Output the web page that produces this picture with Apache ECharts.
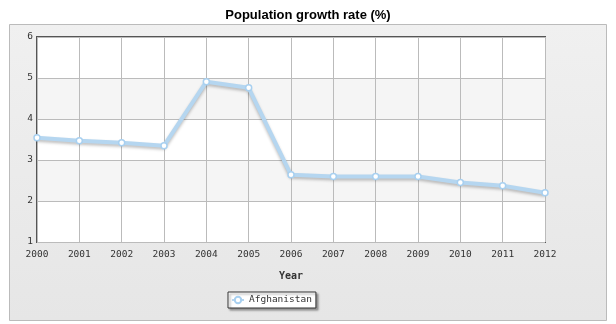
<!DOCTYPE html>
<html><head><meta charset="utf-8">
<script src="https://cdn.jsdelivr.net/npm/echarts@6/dist/echarts.min.js"></script>
<style>html,body{margin:0;padding:0;background:#fff}#c{width:616px;height:324px}</style>
</head><body><div id="c"></div>
<script>
var years = ['2000','2001','2002','2003','2004','2005','2006','2007','2008','2009','2010','2011','2012'];
var growth = [3.54, 3.47, 3.42, 3.35, 4.91, 4.76, 2.64, 2.6, 2.6, 2.6, 2.45, 2.37, 2.2];
var seriesName = 'Afghanistan';
var chart = echarts.init(document.getElementById('c'));
chart.setOption({
  animation: false,
  graphic: [{
    type: 'rect', left: 9, top: 24, z: -10,
    shape: {width: 597, height: 296},
    style: {fill: {type: 'linear', x: 0, y: 0, x2: 0, y2: 1, colorStops: [{offset: 0, color: '#f0f0f0'}, {offset: 1, color: '#e6e6e6'}]}, stroke: '#bbbbbb', lineWidth: 1}
  }],
  title: {text: 'Population growth rate (%)', left: 'center', top: 4,
    textStyle: {fontFamily: 'Liberation Sans', fontSize: 13, fontWeight: 'bold', color: '#000'}},
  grid: {left: 37, right: 71, top: 37, bottom: 82, show: true, backgroundColor: '#fff', borderColor: '#555', borderWidth: 2},
  xAxis: {
    type: 'category', data: years, boundaryGap: false,
    name: 'Year', nameLocation: 'middle', nameGap: 29,
    nameTextStyle: {fontFamily: 'DejaVu Sans Mono', fontSize: 10, fontWeight: 'bold', color: '#333'},
    axisLine: {show: false}, axisTick: {show: false},
    axisLabel: {fontFamily: 'DejaVu Sans Mono', fontSize: 9.5, color: '#333', margin: 8},
    splitLine: {show: true, lineStyle: {color: '#bbb', width: 1}}
  },
  yAxis: {
    type: 'value', min: 1, max: 6, interval: 1,
    axisLine: {show: false}, axisTick: {show: false},
    axisLabel: {fontFamily: 'DejaVu Sans Mono', fontSize: 9.5, color: '#333', margin: 4},
    splitLine: {show: true, lineStyle: {color: '#bbb', width: 1}},
    splitArea: {show: true, areaStyle: {color: ['#ffffff', '#f5f5f5']}}
  },
  legend: {
    data: [seriesName], bottom: 16, left: 228,
    backgroundColor: '#fff', borderColor: '#333', borderWidth: 1, borderRadius: 0,
    padding: [3, 4, 3, 3], itemWidth: 12, itemHeight: 8, itemGap: 6,
    shadowColor: 'rgba(0,0,0,0.35)', shadowBlur: 2, shadowOffsetX: 2, shadowOffsetY: 2,
    textStyle: {fontFamily: 'DejaVu Sans Mono', fontSize: 9.5, color: '#333'}
  },
  series: [{
    name: seriesName, type: 'line', data: growth,
    symbol: 'circle', symbolSize: 6,
    lineStyle: {color: '#b5d6f0', width: 4, shadowColor: 'rgba(0,0,0,0.25)', shadowBlur: 3, shadowOffsetY: 2},
    itemStyle: {color: '#fff', borderColor: '#a8d0f0', borderWidth: 1.5}
  }]
});
</script></body></html>
